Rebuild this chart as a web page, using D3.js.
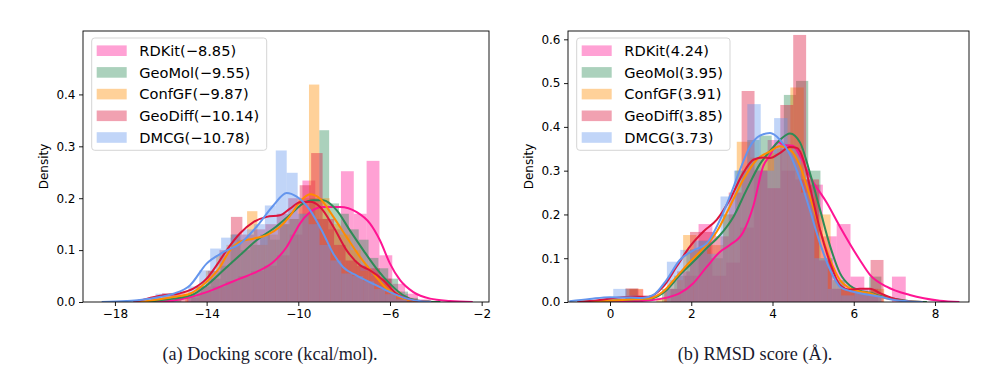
<!DOCTYPE html>
<html><head><meta charset="utf-8">
<script src="https://cdn.jsdelivr.net/npm/d3@7"></script>
<style>body{margin:0;background:#fff;} svg{display:block;font-family:"DejaVu Sans",sans-serif;}</style>
</head><body><svg id="c" width="1007" height="374"></svg>
<script>
// ---------- shared ----------
const methods = ["RDKit", "GeoMol", "ConfGF", "GeoDiff", "DMCG"];
const colors = ["#ff1493", "#2e8b57", "#ff8c00", "#dc143c", "#6495ed"];

// ---------- (a) docking score ----------
const dockMeans = ["−8.85", "−9.55", "−9.87", "−10.14", "−10.78"];
const dockXTicks = [-18, -14, -10, -6, -2];
const dockYTicks = [0.0, 0.1, 0.2, 0.3, 0.4];
// histogram: [binStart, binWidth] and densities per bin
const dockBinsRDKit = [-15.98, 0.56];
const dockHistRDKit = [0.005, 0.0, 0.008, 0.02, 0.03, 0.04, 0.05, 0.06, 0.07, 0.09, 0.13, 0.234, 0.16, 0.14, 0.252, 0.17, 0.272, 0.09, 0.035, 0.016, 0.005];
const dockBinsGeoMol = [-15.535, 0.43];
const dockHistGeoMol = [0.008, 0.0, 0.016, 0.03, 0.045, 0.07, 0.13, 0.1, 0.11, 0.13, 0.12, 0.15, 0.16, 0.17, 0.2, 0.331, 0.19, 0.17, 0.14, 0.12, 0.085, 0.065, 0.045, 0.02, 0.008];
const dockBinsConfGF = [-15.385, 0.45];
const dockHistConfGF = [0.0, 0.019, 0.03, 0.06, 0.09, 0.11, 0.12, 0.175, 0.11, 0.13, 0.15, 0.16, 0.2, 0.419, 0.2, 0.15, 0.13, 0.1, 0.06, 0.05, 0.035, 0.02, 0.008];
const dockBinsGeoDiff = [-16.44, 0.5];
const dockHistGeoDiff = [0.008, 0.017, 0.017, 0.01, 0.03, 0.06, 0.1, 0.164, 0.13, 0.14, 0.15, 0.17, 0.2, 0.225, 0.287, 0.16, 0.11, 0.08, 0.07, 0.065, 0.045, 0.015, 0.005];
const dockBinsDMCG = [-16.23, 0.477];
const dockHistDMCG = [0.016, 0.016, 0.0, 0.03, 0.061, 0.103, 0.124, 0.13, 0.14, 0.15, 0.186, 0.292, 0.249, 0.17, 0.15, 0.11, 0.08, 0.055, 0.05, 0.04, 0.025, 0.015, 0.005];
// KDE curves: [x, density]
const dockKdeRDKit = [[-16.6,0],[-15.45,0.003],[-14.0,0.019],[-13.27,0.032],[-12.55,0.045],[-11.82,0.058],[-11.09,0.077],[-10.51,0.106],[-10.2,0.13],[-9.93,0.151],[-9.49,0.173],[-8.91,0.183],[-8.18,0.183],[-7.45,0.173],[-6.87,0.151],[-6.44,0.119],[-6.0,0.074],[-5.56,0.042],[-4.98,0.019],[-4.25,0.0065],[-3.38,0.002],[-2.39,0]];
const dockKdeGeoMol = [[-16.8,0],[-16.3,0.002],[-15.45,0.0065],[-14.58,0.0148],[-14.0,0.032],[-13.27,0.061],[-12.55,0.09],[-11.82,0.119],[-11.09,0.141],[-10.36,0.168],[-9.78,0.19],[-9.35,0.196],[-8.91,0.196],[-8.33,0.177],[-7.75,0.138],[-7.16,0.0996],[-6.58,0.064],[-6.0,0.035],[-5.42,0.013],[-4.84,0.003],[-4.25,0.0006],[-3.8,0]];
const dockKdeConfGF = [[-17.0,0],[-16.6,0.002],[-15.45,0.0097],[-14.73,0.016],[-14.0,0.039],[-13.42,0.067],[-12.98,0.0996],[-12.55,0.116],[-11.96,0.122],[-11.38,0.129],[-10.8,0.145],[-10.36,0.166],[-9.93,0.193],[-9.49,0.2075],[-9.05,0.199],[-8.47,0.164],[-7.89,0.125],[-7.31,0.087],[-6.73,0.055],[-6.15,0.026],[-5.56,0.0097],[-4.84,0.002],[-4.3,0]];
const dockKdeGeoDiff = [[-17.2,0],[-16.91,0.003],[-16.03,0.012],[-15.16,0.017],[-14.58,0.026],[-14.0,0.045],[-13.56,0.071],[-13.13,0.0996],[-12.55,0.132],[-11.96,0.154],[-11.38,0.164],[-10.8,0.167],[-10.36,0.18],[-9.93,0.192],[-9.49,0.193],[-9.05,0.183],[-8.47,0.145],[-7.89,0.0996],[-7.31,0.071],[-6.87,0.061],[-6.29,0.042],[-5.71,0.016],[-5.13,0.005],[-4.55,0.001],[-4.2,0]];
const dockKdeDMCG = [[-18.58,0],[-17.5,0.002],[-16.91,0.004],[-16.0,0.01],[-15.45,0.016],[-14.73,0.032],[-14.0,0.074],[-13.27,0.096],[-12.55,0.112],[-11.82,0.145],[-11.09,0.186],[-10.51,0.21],[-10.07,0.203],[-9.49,0.177],[-8.91,0.132],[-8.47,0.093],[-8.04,0.067],[-7.45,0.051],[-6.73,0.035],[-6.0,0.019],[-5.27,0.0065],[-4.55,0.001],[-4.2,0]];

// ---------- (b) RMSD score ----------
const rmsdMeans = ["4.24", "3.95", "3.91", "3.85", "3.73"];
const rmsdXTicks = [0, 2, 4, 6, 8];
const rmsdYTicks = [0.0, 0.1, 0.2, 0.3, 0.4, 0.5, 0.6];
const rmsdBinsRDKit = [0.48, 0.34];
const rmsdHistRDKit = [0.029, 0.0, 0.0, 0.03, 0.06, 0.178, 0.06, 0.09, 0.17, 0.3, 0.37, 0.3, 0.28, 0.268, 0.15, 0.178, 0.058, 0.03, 0.0, 0.058];
const rmsdBinsGeoMol = [0.38, 0.3];
const rmsdHistGeoMol = [0.03, 0.0, 0.0, 0.03, 0.06, 0.12, 0.14, 0.1, 0.2, 0.3, 0.37, 0.38, 0.35, 0.473, 0.505, 0.3, 0.1, 0.05, 0.03, 0.02, 0.058];
const rmsdBinsConfGF = [0.48, 0.33];
const rmsdHistConfGF = [0.03, 0.0, 0.01, 0.05, 0.153, 0.12, 0.13, 0.2, 0.366, 0.33, 0.34, 0.36, 0.49, 0.25, 0.2, 0.03, 0.03, 0.02, 0.03];
const rmsdBinsGeoDiff = [0.3825, 0.3175];
const rmsdHistGeoDiff = [0.031, 0.0, 0.0, 0.03, 0.07, 0.16, 0.16, 0.15, 0.25, 0.482, 0.3, 0.26, 0.45, 0.61, 0.28, 0.095, 0.03, 0.03, 0.02, 0.096];
const rmsdBinsDMCG = [0.08, 0.33];
const rmsdHistDMCG = [0.03, 0.015, 0.0, 0.0, 0.092, 0.119, 0.14, 0.11, 0.241, 0.3, 0.452, 0.3, 0.42, 0.35, 0.25, 0.1, 0.03, 0.015, 0.03, 0.015];
const rmsdKdeRDKit = [[-0.8,0],[0.0,0.001],[0.5,0.002],[1.0,0.004],[1.4,0.01],[1.72,0.02],[2.05,0.043],[2.38,0.08],[2.71,0.115],[2.95,0.13],[3.28,0.16],[3.53,0.22],[3.77,0.31],[3.94,0.335],[4.14,0.365],[4.3,0.358],[4.5,0.357],[4.7,0.33],[4.92,0.287],[5.34,0.226],[5.66,0.172],[6.15,0.096],[6.4,0.062],[6.81,0.035],[7.38,0.016],[8.12,0.003],[8.6,0]];
const rmsdKdeGeoMol = [[-0.8,0],[-0.3,0.002],[0.2,0.004],[0.6,0.006],[1.0,0.008],[1.39,0.027],[1.72,0.062],[2.05,0.092],[2.38,0.123],[2.71,0.153],[3.04,0.195],[3.36,0.256],[3.69,0.315],[3.94,0.345],[4.18,0.37],[4.43,0.385],[4.68,0.364],[4.92,0.295],[5.17,0.211],[5.42,0.127],[5.66,0.066],[5.91,0.037],[6.15,0.026],[6.4,0.021],[6.65,0.014],[6.97,0.008],[7.38,0.002],[7.8,0]];
const rmsdKdeConfGF = [[-0.8,0],[-0.3,0.002],[0.2,0.004],[0.6,0.006],[0.95,0.008],[1.31,0.024],[1.64,0.058],[1.97,0.092],[2.3,0.123],[2.63,0.161],[2.95,0.218],[3.28,0.279],[3.61,0.325],[3.94,0.344],[4.18,0.356],[4.43,0.348],[4.68,0.31],[4.92,0.241],[5.17,0.165],[5.42,0.096],[5.66,0.05],[5.91,0.031],[6.15,0.024],[6.4,0.02],[6.65,0.012],[6.97,0.006],[7.38,0.001],[7.7,0]];
const rmsdKdeGeoDiff = [[-0.8,0],[-0.3,0.004],[0.2,0.01],[0.6,0.012],[0.95,0.012],[1.31,0.035],[1.64,0.081],[1.97,0.127],[2.3,0.161],[2.63,0.188],[2.95,0.234],[3.28,0.295],[3.53,0.325],[3.77,0.33],[3.94,0.329],[4.18,0.34],[4.43,0.354],[4.6,0.352],[4.76,0.325],[4.92,0.264],[5.17,0.165],[5.42,0.089],[5.66,0.039],[5.91,0.028],[6.15,0.03],[6.4,0.03],[6.65,0.02],[6.97,0.008],[7.38,0.001],[7.7,0]];
const rmsdKdeDMCG = [[-1.0,0.002],[-0.5,0.007],[0.0,0.011],[0.5,0.01],[0.8,0.009],[1.07,0.016],[1.39,0.05],[1.72,0.096],[2.05,0.118],[2.38,0.134],[2.71,0.188],[2.95,0.241],[3.2,0.302],[3.45,0.356],[3.69,0.38],[3.94,0.386],[4.18,0.371],[4.43,0.337],[4.68,0.28],[4.92,0.21],[5.17,0.134],[5.42,0.073],[5.66,0.035],[5.91,0.025],[6.15,0.02],[6.4,0.016],[6.65,0.012],[6.97,0.005],[7.38,0.001],[7.7,0]];

// ---------- drawing ----------
const svg = d3.select("#c");

function drawPanel(p) {
  const xs = d3.scaleLinear().domain(p.xDomain).range([p.left, p.right]);
  const ys = d3.scaleLinear().domain(p.yDomain).range([p.bottom, p.top]);
  const g = svg.append("g");
  const clipId = "clip" + p.id;
  svg.append("clipPath").attr("id", clipId).append("rect")
    .attr("x", p.left).attr("y", p.top).attr("width", p.right - p.left).attr("height", p.bottom - p.top);
  const plot = g.append("g").attr("clip-path", `url(#${clipId})`);
  const barLayer = plot.append("g");
  const lineLayer = plot.append("g");
  const line = d3.line().x(d => xs(d[0])).y(d => ys(d[1])).curve(d3.curveMonotoneX);

  p.series.forEach((s, k) => {
    const [b0, bw] = s.bins;
    barLayer.append("g").selectAll("rect").data(s.hist).join("rect")
      .attr("x", (d, i) => xs(b0 + i * bw))
      .attr("width", (d, i) => xs(b0 + (i + 1) * bw) - xs(b0 + i * bw))
      .attr("y", d => ys(d))
      .attr("height", d => ys(0) - ys(d))
      .attr("fill", colors[k]).attr("fill-opacity", 0.4);
    lineLayer.append("path").datum(s.kde).attr("d", line)
      .attr("fill", "none").attr("stroke", colors[k]).attr("stroke-width", 2);
  });

  // axes
  const xAxis = d3.axisBottom(xs).tickValues(p.xTicks).tickSize(4).tickPadding(3.5)
    .tickFormat(d => d3.format("d")(d).replace("-", "−"));
  const yAxis = d3.axisLeft(ys).tickValues(p.yTicks).tickSize(4).tickPadding(3.5)
    .tickFormat(d3.format(".1f"));
  const gx = g.append("g").attr("transform", `translate(0,${p.bottom})`).call(xAxis);
  const gy = g.append("g").attr("transform", `translate(${p.left},0)`).call(yAxis);
  [gx, gy].forEach(a => {
    a.select(".domain").remove();
    a.selectAll("text").attr("font-size", 12).attr("font-family", "DejaVu Sans").attr("fill", "#000");
    a.selectAll("line").attr("stroke", "#000").attr("stroke-width", 0.9);
  });
  g.append("rect").attr("x", p.left).attr("y", p.top)
    .attr("width", p.right - p.left).attr("height", p.bottom - p.top)
    .attr("fill", "none").attr("stroke", "#000").attr("stroke-width", 0.9);

  g.append("text").attr("transform", `translate(${p.left - 35},${(p.top + p.bottom) / 2}) rotate(-90)`)
    .attr("text-anchor", "middle").attr("font-size", 12).text("Density");

  // legend
  const lg = g.append("g");
  lg.append("rect").attr("x", p.legX).attr("y", 38).attr("width", p.legW).attr("height", 112.3)
    .attr("rx", 3).attr("fill", "#fff").attr("fill-opacity", 0.8).attr("stroke", "#d0d0d0").attr("stroke-width", 0.9);
  p.series.forEach((s, k) => {
    const cy = 50.7 + k * 21.7;
    lg.append("rect").attr("x", p.legX + 5).attr("y", cy - 5.3).attr("width", 30).attr("height", 10.6)
      .attr("fill", colors[k]).attr("fill-opacity", 0.4);
    lg.append("text").attr("x", p.legX + 47.6).attr("y", cy + 5.3).attr("font-size", 14.6)
      .attr("fill", "#000").text(s.label);
  });

  svg.append("text").attr("x", p.capX).attr("y", 360).attr("text-anchor", "middle")
    .attr("font-family", "Liberation Serif, DejaVu Serif, serif").attr("font-size", 18.2).attr("fill", "#1a1a2e")
    .text(p.caption);
}

drawPanel({
  id: "a", left: 83, right: 489, top: 31, bottom: 302,
  xDomain: [-19.394, -1.68], yDomain: [0, 0.5222],
  xTicks: dockXTicks, yTicks: dockYTicks, legX: 91.7, legW: 175,
  caption: "(a) Docking score (kcal/mol).", capX: 270,
  series: [
    {label: `${methods[0]}(${dockMeans[0]})`, bins: dockBinsRDKit, hist: dockHistRDKit, kde: dockKdeRDKit},
    {label: `${methods[1]}(${dockMeans[1]})`, bins: dockBinsGeoMol, hist: dockHistGeoMol, kde: dockKdeGeoMol},
    {label: `${methods[2]}(${dockMeans[2]})`, bins: dockBinsConfGF, hist: dockHistConfGF, kde: dockKdeConfGF},
    {label: `${methods[3]}(${dockMeans[3]})`, bins: dockBinsGeoDiff, hist: dockHistGeoDiff, kde: dockKdeGeoDiff},
    {label: `${methods[4]}(${dockMeans[4]})`, bins: dockBinsDMCG, hist: dockHistDMCG, kde: dockKdeDMCG}
  ]
});
drawPanel({
  id: "b", left: 568, right: 969, top: 31, bottom: 302,
  xDomain: [-1.034, 8.837], yDomain: [0, 0.619],
  xTicks: rmsdXTicks, yTicks: rmsdYTicks, legX: 576.7, legW: 153.3,
  caption: "(b) RMSD score (Å).", capX: 755,
  series: [
    {label: `${methods[0]}(${rmsdMeans[0]})`, bins: rmsdBinsRDKit, hist: rmsdHistRDKit, kde: rmsdKdeRDKit},
    {label: `${methods[1]}(${rmsdMeans[1]})`, bins: rmsdBinsGeoMol, hist: rmsdHistGeoMol, kde: rmsdKdeGeoMol},
    {label: `${methods[2]}(${rmsdMeans[2]})`, bins: rmsdBinsConfGF, hist: rmsdHistConfGF, kde: rmsdKdeConfGF},
    {label: `${methods[3]}(${rmsdMeans[3]})`, bins: rmsdBinsGeoDiff, hist: rmsdHistGeoDiff, kde: rmsdKdeGeoDiff},
    {label: `${methods[4]}(${rmsdMeans[4]})`, bins: rmsdBinsDMCG, hist: rmsdHistDMCG, kde: rmsdKdeDMCG}
  ]
});
</script></body></html>
